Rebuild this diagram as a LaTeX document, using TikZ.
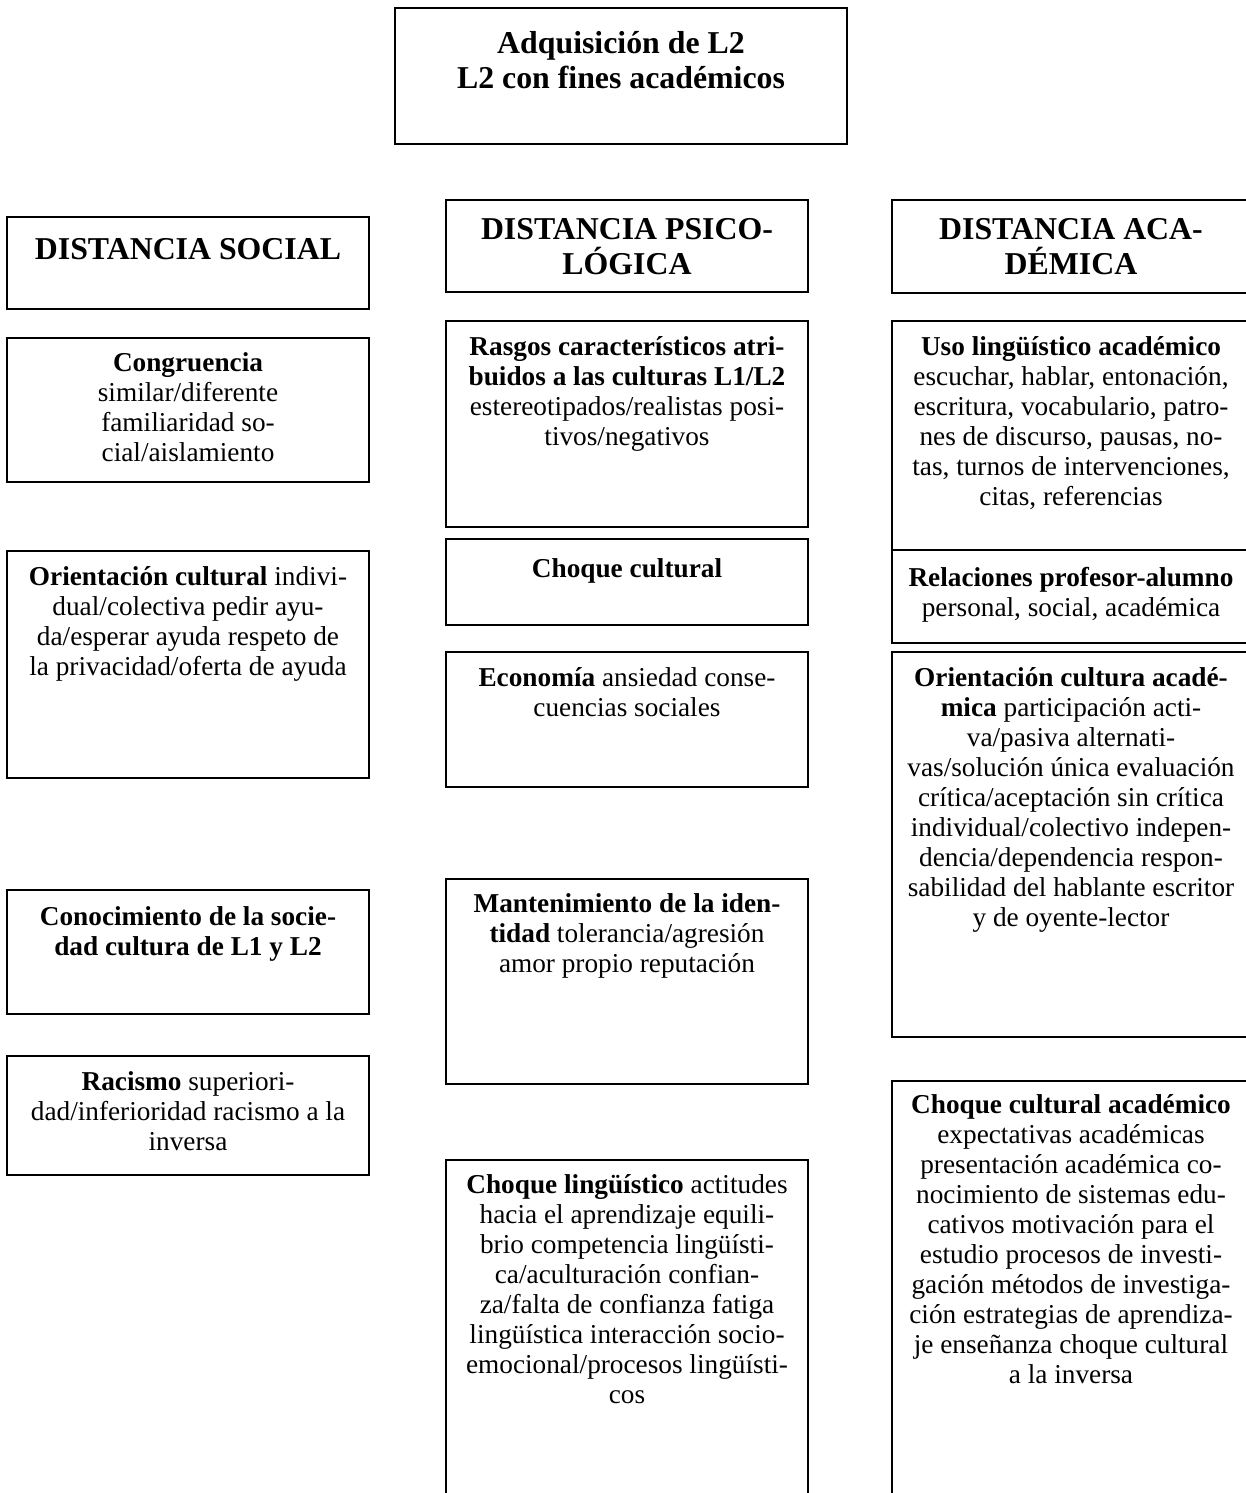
\documentclass[tikz,border=0pt]{standalone}
\usepackage{fontspec}
\setmainfont{Liberation Serif}
\begin{document}
\begin{tikzpicture}[x=0.44pt,y=-0.44pt,
  boxline/.style={line width=0.85pt},
  bodytxt/.style={font=\fontsize{12}{13.2}\selectfont, align=center, anchor=north, inner sep=0pt, execute at begin node=\strut},
  headtxt/.style={font=\fontsize{14}{15.4}\selectfont\bfseries, align=center, anchor=north, inner sep=0pt, execute at begin node=\strut}]
\useasboundingbox (0,0) rectangle (1246,1493);
\clip (0,0) rectangle (1246,1493);
% boxes
\draw[boxline] (395,8) rectangle (847,144);
\draw[boxline] (7,217) rectangle (369,309);
\draw[boxline] (7,338) rectangle (369,482);
\draw[boxline] (7,551) rectangle (369,778);
\draw[boxline] (7,890) rectangle (369,1014);
\draw[boxline] (7,1056) rectangle (369,1175);
\draw[boxline] (446,200) rectangle (808,292);
\draw[boxline] (446,321) rectangle (808,527);
\draw[boxline] (446,539) rectangle (808,625);
\draw[boxline] (446,652) rectangle (808,787);
\draw[boxline] (446,879) rectangle (808,1084);
\draw[boxline] (446,1160) rectangle (808,1500);
\draw[boxline] (892,200) rectangle (1252,293);
\draw[boxline] (892,321) rectangle (1252,550);
\draw[boxline] (892,550) rectangle (1252,643);
\draw[boxline] (892,652) rectangle (1252,1037);
\draw[boxline] (892,1081) rectangle (1252,1500);
% texts
\node[headtxt] (title) at (621,30.5) {Adquisición de L2\\L2 con fines académicos};
\node[headtxt] (hsoc) at (188,234.5) {DISTANCIA SOCIAL};
\node[headtxt] (hpsi) at (627,217.5) {DISTANCIA PSICO-\\LÓGICA};
\node[headtxt] (haca) at (1071,217.5) {DISTANCIA ACA-\\DÉMICA};
\node[bodytxt] (cong) at (188,352) {\textbf{Congruencia}\\similar/diferente\\familiaridad so-\\cial/aislamiento};
\node[bodytxt] (orc) at (188,566) {\textbf{Orientación cultural} indivi-\\dual/colectiva pedir ayu-\\da/esperar ayuda respeto de\\la privacidad/oferta de ayuda};
\node[bodytxt] (con) at (188,906) {\textbf{Conocimiento de la socie-}\\\textbf{dad cultura de L1 y L2}};
\node[bodytxt] (rac) at (188,1071) {\textbf{Racismo} superiori-\\dad/inferioridad racismo a la\\inversa};
\node[bodytxt] (ras) at (627,336) {\textbf{Rasgos característicos atri-}\\\textbf{buidos a las culturas L1/L2}\\estereotipados/realistas posi-\\tivos/negativos};
\node[bodytxt] (chc) at (627,556) {\textbf{Choque cultural}};
\node[bodytxt] (eco) at (627,667) {\textbf{Economía} ansiedad conse-\\cuencias sociales};
\node[bodytxt] (man) at (627,893) {\textbf{Mantenimiento de la iden-}\\\textbf{tidad} tolerancia/agresión\\amor propio reputación};
\node[bodytxt] (chl) at (627,1174) {\textbf{Choque lingüístico} actitudes\\hacia el aprendizaje equili-\\brio competencia lingüísti-\\ca/aculturación confian-\\za/falta de confianza fatiga\\lingüística interacción socio-\\emocional/procesos lingüísti-\\cos};
\node[bodytxt] (uso) at (1071,336) {\textbf{Uso lingüístico académico}\\escuchar, hablar, entonación,\\escritura, vocabulario, patro-\\nes de discurso, pausas, no-\\tas, turnos de intervenciones,\\citas, referencias};
\node[bodytxt] (rel) at (1071,567) {\textbf{Relaciones profesor-alumno}\\personal, social, académica};
\node[bodytxt] (oca) at (1071,667) {\textbf{Orientación cultura acadé-}\\\textbf{mica} participación acti-\\va/pasiva alternati-\\vas/solución única evaluación\\crítica/aceptación sin crítica\\individual/colectivo indepen-\\dencia/dependencia respon-\\sabilidad del hablante escritor\\y de oyente-lector};
\node[bodytxt] (cca) at (1071,1094) {\textbf{Choque cultural académico}\\expectativas académicas\\presentación académica co-\\nocimiento de sistemas edu-\\cativos motivación para el\\estudio procesos de investi-\\gación métodos de investiga-\\ción estrategias de aprendiza-\\je enseñanza choque cultural\\a la inversa};
\end{tikzpicture}
\end{document}
